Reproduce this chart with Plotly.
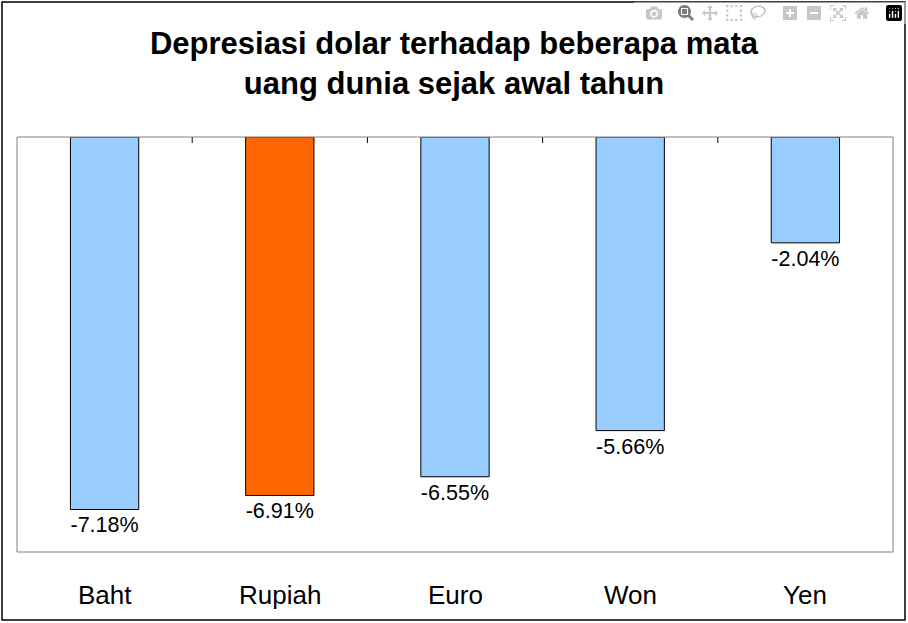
import plotly.graph_objects as go

categories = ["Baht", "Rupiah", "Euro", "Won", "Yen"]
values = [-7.18, -6.91, -6.55, -5.66, -2.04]
labels = ["-7.18%", "-6.91%", "-6.55%", "-5.66%", "-2.04%"]
colors = ["#99CCFF", "#FF6600", "#99CCFF", "#99CCFF", "#99CCFF"]

W, H = 908, 623
ml, mr, mt, mb = 17, 15, 137, 71
pw, ph = W - ml - mr, H - mt - mb
FONT = "Liberation Sans, Arial"

fig = go.Figure(go.Bar(
    x=list(range(len(categories))), y=values, marker_color=colors,
    marker_line_color="black", marker_line_width=1, width=0.39,
    text=labels, textposition="outside", cliponaxis=False,
    textfont=dict(family=FONT, size=26, color="black"),
))
shapes = [dict(type="line", xref="x", yref="paper", x0=i + 0.5, x1=i + 0.5,
               y0=1, y1=1 - 6 / ph, line=dict(color="black", width=1))
          for i in range(len(categories) - 1)]
shapes.append(dict(type="rect", xref="paper", yref="paper",
                   x0=(-ml + 2) / pw, x1=1 + (mr - 3) / pw,
                   y0=(-mb + 3) / ph, y1=1 + (mt - 2) / ph,
                   line=dict(color="black", width=1.5)))
shapes.append(dict(type="rect", xref="paper", yref="paper", x0=0, x1=1, y0=0, y1=1,
                   line=dict(color="#808080", width=1)))
annotations = [dict(x=i, y=0, xref="x", yref="paper", text=c, showarrow=False,
                    yshift=-43, yanchor="middle",
                    font=dict(family=FONT, size=26, color="black"))
               for i, c in enumerate(categories)]
fig.update_layout(
    width=W, height=H, margin=dict(l=ml, r=mr, t=mt, b=mb),
    paper_bgcolor="white", plot_bgcolor="white", showlegend=False,
    title=dict(text="<b>Depresiasi dolar terhadap beberapa mata<br>uang dunia sejak awal tahun</b>",
               x=0.5, xanchor="center", y=1 - 54 / H, yanchor="middle",
               font=dict(family=FONT, size=31, color="black")),
    xaxis=dict(range=[-0.5, 4.5], showticklabels=False, showgrid=False, zeroline=False),
    yaxis=dict(range=[-8, 0], showticklabels=False, showgrid=False, zeroline=False),
    shapes=shapes, annotations=annotations,
)
fig.write_html("out.html", post_script="document.body.style.margin='0';document.body.style.overflow='hidden';")
